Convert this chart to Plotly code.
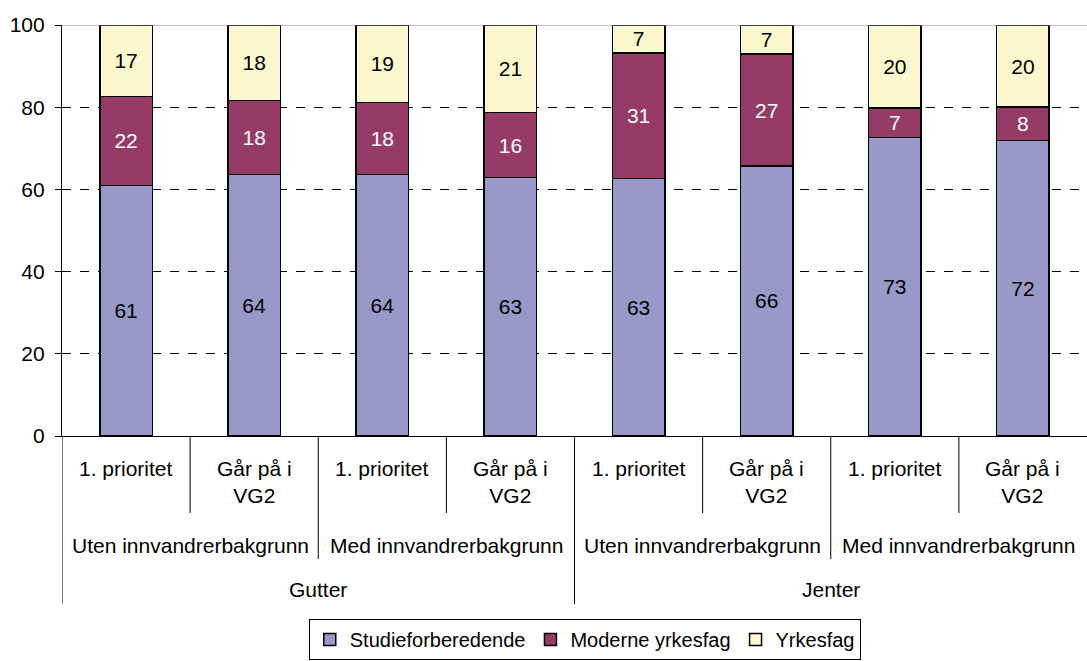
import plotly.graph_objects as go

# Data
level1 = ["1. prioritet", "Går på i<br>VG2"] * 4
level2 = ["Uten innvandrerbakgrunn", "Med innvandrerbakgrunn"] * 2
level3 = ["Gutter", "Jenter"]
studie = [61.0, 63.6, 63.6, 62.9, 62.6, 65.7, 72.6, 71.9]
moderne = [21.6, 18.0, 17.6, 15.8, 30.6, 27.2, 7.2, 8.1]
yrkes = [17.4, 18.4, 18.8, 21.3, 6.8, 7.1, 20.2, 20.0]
series_names = ["Studieforberedende", "Moderne yrkesfag", "Yrkesfag"]
colors = ["#9A98C8", "#963A66", "#FAF8CC"]
text_colors = ["black", "white", "black"]

FONT = "Liberation Sans, Arial, sans-serif"
FS = 21
x = list(range(len(studie)))

fig = go.Figure()
for name, vals, col, tc in zip(series_names, [studie, moderne, yrkes], colors, text_colors):
    fig.add_trace(go.Bar(
        x=x, y=vals, name=name,
        marker=dict(color=col, line=dict(color="black", width=1.5)),
        width=0.41,
        texttemplate="%{y:.0f}", textposition="inside", insidetextanchor="middle",
        textfont=dict(color=tc, size=FS, family=FONT),
        textangle=0, constraintext="none",
        hoverinfo="skip",
    ))

plot_h = 661 - 25 - 225

def py(px):
    return -px / plot_h

shapes = []
shapes.append(dict(type="line", xref="paper", yref="y", x0=0, x1=1, y0=100, y1=100,
                   line=dict(color="#808080", width=1.2)))
for xv in [0.5, 2.5, 4.5, 6.5]:
    shapes.append(dict(type="line", xref="x", yref="paper", x0=xv, x1=xv, y0=0, y1=py(77),
                       line=dict(color="black", width=1)))
for xv in [1.5, 5.5]:
    shapes.append(dict(type="line", xref="x", yref="paper", x0=xv, x1=xv, y0=0, y1=py(123),
                       line=dict(color="black", width=1)))
for xv in [-0.5, 3.5]:
    shapes.append(dict(type="line", xref="x", yref="paper", x0=xv, x1=xv, y0=0, y1=py(168),
                       line=dict(color="black", width=1)))

annotations = []
for i, lab in enumerate(level1):
    annotations.append(dict(x=i, y=0, xref="x", yref="paper", text=lab, showarrow=False,
                            yanchor="top", yshift=-19, font=dict(size=FS, family=FONT, color="black")))
for j, lab in enumerate(level2):
    annotations.append(dict(x=2 * j + 0.5, y=0, xref="x", yref="paper", text=lab, showarrow=False,
                            yanchor="middle", yshift=-109, font=dict(size=FS, family=FONT, color="black")))
for k, lab in enumerate(level3):
    annotations.append(dict(x=4 * k + 1.5, y=0, xref="x", yref="paper", text=lab, showarrow=False,
                            yanchor="middle", yshift=-153, font=dict(size=FS, family=FONT, color="black")))

fig.update_layout(
    barmode="stack",
    width=1087, height=661,
    margin=dict(l=62, r=0, t=25, b=225),
    plot_bgcolor="white", paper_bgcolor="white",
    font=dict(family=FONT, size=FS, color="black"),
    showlegend=True,
    legend=dict(orientation="h", x=0.51, xanchor="center", y=py(224), yanchor="bottom",
                bordercolor="black", borderwidth=1, font=dict(size=20, family=FONT),
                itemwidth=30, traceorder="normal", tracegroupgap=0),
    xaxis=dict(range=[-0.5, 7.5], showticklabels=False, ticks="", showgrid=False,
               zeroline=False, showline=True, linecolor="black", linewidth=1.2),
    yaxis=dict(range=[0, 100], tickvals=[0, 20, 40, 60, 80, 100], ticks="outside", ticklen=6,
               tickcolor="black", showline=True, linecolor="black", linewidth=1.2,
               showgrid=True, gridcolor="black", gridwidth=1, griddash="dash",
               zeroline=False, ticklabelstandoff=6,
               tickfont=dict(size=21, family=FONT, color="black")),
    shapes=shapes, annotations=annotations,
)

fig.write_html("out.html", config={"displayModeBar": False},
               post_script="document.body.style.margin='0';document.body.style.overflow='hidden';")
